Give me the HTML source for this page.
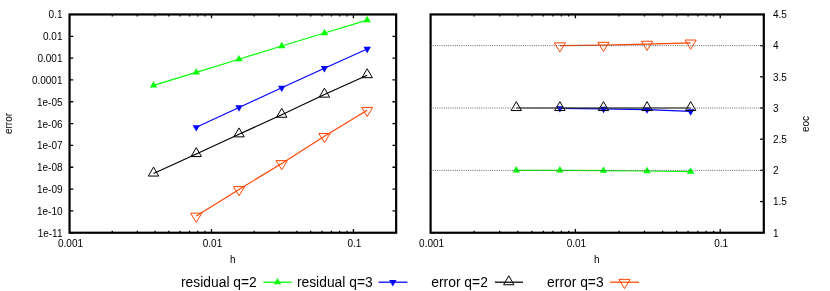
<!DOCTYPE html>
<html><head><meta charset="utf-8"><title>chart</title>
<style>html,body{margin:0;padding:0;background:#fff}svg{display:block;will-change:transform}text{fill:#000}</style>
</head><body>
<svg width="830" height="291" viewBox="0 0 830 291">
<rect width="830" height="291" fill="#fff"/>
<rect x="69.55" y="14.45" width="326.60" height="218.30" fill="none" stroke="#000" stroke-width="2.2"/>
<rect x="430.60" y="14.45" width="333.20" height="218.30" fill="none" stroke="#000" stroke-width="2.2"/>
<path d="M112.28 232.75v-2.0M112.28 14.45v2.0" stroke="#000" stroke-width="1.3"/>
<path d="M137.27 232.75v-2.0M137.27 14.45v2.0" stroke="#000" stroke-width="1.3"/>
<path d="M155.00 232.75v-2.0M155.00 14.45v2.0" stroke="#000" stroke-width="1.3"/>
<path d="M168.76 232.75v-2.0M168.76 14.45v2.0" stroke="#000" stroke-width="1.3"/>
<path d="M180.00 232.75v-2.0M180.00 14.45v2.0" stroke="#000" stroke-width="1.3"/>
<path d="M189.50 232.75v-2.0M189.50 14.45v2.0" stroke="#000" stroke-width="1.3"/>
<path d="M197.73 232.75v-2.0M197.73 14.45v2.0" stroke="#000" stroke-width="1.3"/>
<path d="M204.99 232.75v-2.0M204.99 14.45v2.0" stroke="#000" stroke-width="1.3"/>
<path d="M211.49 232.75v-3.7M211.49 14.45v3.7" stroke="#000" stroke-width="1.3"/>
<path d="M254.21 232.75v-2.0M254.21 14.45v2.0" stroke="#000" stroke-width="1.3"/>
<path d="M279.21 232.75v-2.0M279.21 14.45v2.0" stroke="#000" stroke-width="1.3"/>
<path d="M296.94 232.75v-2.0M296.94 14.45v2.0" stroke="#000" stroke-width="1.3"/>
<path d="M310.70 232.75v-2.0M310.70 14.45v2.0" stroke="#000" stroke-width="1.3"/>
<path d="M321.93 232.75v-2.0M321.93 14.45v2.0" stroke="#000" stroke-width="1.3"/>
<path d="M331.44 232.75v-2.0M331.44 14.45v2.0" stroke="#000" stroke-width="1.3"/>
<path d="M339.67 232.75v-2.0M339.67 14.45v2.0" stroke="#000" stroke-width="1.3"/>
<path d="M346.93 232.75v-2.0M346.93 14.45v2.0" stroke="#000" stroke-width="1.3"/>
<path d="M353.42 232.75v-3.7M353.42 14.45v3.7" stroke="#000" stroke-width="1.3"/>
<path d="M396.15 232.75v-2.0M396.15 14.45v2.0" stroke="#000" stroke-width="1.3"/>
<text x="69.55" y="246.9" font-size="10" text-anchor="middle" dx="1" font-family="Liberation Sans, sans-serif">0.001</text>
<text x="211.49" y="246.9" font-size="10" text-anchor="middle" dx="1" font-family="Liberation Sans, sans-serif">0.01</text>
<text x="353.42" y="246.9" font-size="10" text-anchor="middle" dx="1" font-family="Liberation Sans, sans-serif">0.1</text>
<path d="M474.19 232.75v-2.0M474.19 14.45v2.0" stroke="#000" stroke-width="1.3"/>
<path d="M499.69 232.75v-2.0M499.69 14.45v2.0" stroke="#000" stroke-width="1.3"/>
<path d="M517.78 232.75v-2.0M517.78 14.45v2.0" stroke="#000" stroke-width="1.3"/>
<path d="M531.81 232.75v-2.0M531.81 14.45v2.0" stroke="#000" stroke-width="1.3"/>
<path d="M543.28 232.75v-2.0M543.28 14.45v2.0" stroke="#000" stroke-width="1.3"/>
<path d="M552.97 232.75v-2.0M552.97 14.45v2.0" stroke="#000" stroke-width="1.3"/>
<path d="M561.37 232.75v-2.0M561.37 14.45v2.0" stroke="#000" stroke-width="1.3"/>
<path d="M568.78 232.75v-2.0M568.78 14.45v2.0" stroke="#000" stroke-width="1.3"/>
<path d="M575.40 232.75v-3.7M575.40 14.45v3.7" stroke="#000" stroke-width="1.3"/>
<path d="M619.00 232.75v-2.0M619.00 14.45v2.0" stroke="#000" stroke-width="1.3"/>
<path d="M644.49 232.75v-2.0M644.49 14.45v2.0" stroke="#000" stroke-width="1.3"/>
<path d="M662.59 232.75v-2.0M662.59 14.45v2.0" stroke="#000" stroke-width="1.3"/>
<path d="M676.62 232.75v-2.0M676.62 14.45v2.0" stroke="#000" stroke-width="1.3"/>
<path d="M688.08 232.75v-2.0M688.08 14.45v2.0" stroke="#000" stroke-width="1.3"/>
<path d="M697.78 232.75v-2.0M697.78 14.45v2.0" stroke="#000" stroke-width="1.3"/>
<path d="M706.18 232.75v-2.0M706.18 14.45v2.0" stroke="#000" stroke-width="1.3"/>
<path d="M713.58 232.75v-2.0M713.58 14.45v2.0" stroke="#000" stroke-width="1.3"/>
<path d="M720.21 232.75v-3.7M720.21 14.45v3.7" stroke="#000" stroke-width="1.3"/>
<path d="M763.80 232.75v-2.0M763.80 14.45v2.0" stroke="#000" stroke-width="1.3"/>
<text x="430.60" y="246.9" font-size="10" text-anchor="middle" dx="1" font-family="Liberation Sans, sans-serif">0.001</text>
<text x="575.40" y="246.9" font-size="10" text-anchor="middle" dx="1" font-family="Liberation Sans, sans-serif">0.01</text>
<text x="720.21" y="246.9" font-size="10" text-anchor="middle" dx="1" font-family="Liberation Sans, sans-serif">0.1</text>
<text x="62.5" y="18.35" font-size="10" text-anchor="end" font-family="Liberation Sans, sans-serif">0.1</text>
<path d="M69.55 36.28h3.7M396.15 36.28h-3.7" stroke="#000" stroke-width="1.3"/>
<text x="62.5" y="40.18" font-size="10" text-anchor="end" font-family="Liberation Sans, sans-serif">0.01</text>
<path d="M69.55 58.11h3.7M396.15 58.11h-3.7" stroke="#000" stroke-width="1.3"/>
<text x="62.5" y="62.01" font-size="10" text-anchor="end" font-family="Liberation Sans, sans-serif">0.001</text>
<path d="M69.55 79.94h3.7M396.15 79.94h-3.7" stroke="#000" stroke-width="1.3"/>
<text x="62.5" y="83.84" font-size="10" text-anchor="end" font-family="Liberation Sans, sans-serif">0.0001</text>
<path d="M69.55 101.77h3.7M396.15 101.77h-3.7" stroke="#000" stroke-width="1.3"/>
<text x="62.5" y="105.67" font-size="10" text-anchor="end" font-family="Liberation Sans, sans-serif">1e-05</text>
<path d="M69.55 123.60h3.7M396.15 123.60h-3.7" stroke="#000" stroke-width="1.3"/>
<text x="62.5" y="127.50" font-size="10" text-anchor="end" font-family="Liberation Sans, sans-serif">1e-06</text>
<path d="M69.55 145.43h3.7M396.15 145.43h-3.7" stroke="#000" stroke-width="1.3"/>
<text x="62.5" y="149.33" font-size="10" text-anchor="end" font-family="Liberation Sans, sans-serif">1e-07</text>
<path d="M69.55 167.26h3.7M396.15 167.26h-3.7" stroke="#000" stroke-width="1.3"/>
<text x="62.5" y="171.16" font-size="10" text-anchor="end" font-family="Liberation Sans, sans-serif">1e-08</text>
<path d="M69.55 189.09h3.7M396.15 189.09h-3.7" stroke="#000" stroke-width="1.3"/>
<text x="62.5" y="192.99" font-size="10" text-anchor="end" font-family="Liberation Sans, sans-serif">1e-09</text>
<path d="M69.55 210.92h3.7M396.15 210.92h-3.7" stroke="#000" stroke-width="1.3"/>
<text x="62.5" y="214.82" font-size="10" text-anchor="end" font-family="Liberation Sans, sans-serif">1e-10</text>
<text x="62.5" y="236.65" font-size="10" text-anchor="end" font-family="Liberation Sans, sans-serif">1e-11</text>
<text x="772.9" y="18.25" font-size="10" text-anchor="start" font-family="Liberation Sans, sans-serif">4.5</text>
<path d="M763.80 45.64h-3.7" stroke="#000" stroke-width="1.3"/>
<text x="772.9" y="49.44" font-size="10" text-anchor="start" font-family="Liberation Sans, sans-serif">4</text>
<path d="M763.80 76.82h-3.7" stroke="#000" stroke-width="1.3"/>
<text x="772.9" y="80.62" font-size="10" text-anchor="start" font-family="Liberation Sans, sans-serif">3.5</text>
<path d="M763.80 108.01h-3.7" stroke="#000" stroke-width="1.3"/>
<text x="772.9" y="111.81" font-size="10" text-anchor="start" font-family="Liberation Sans, sans-serif">3</text>
<path d="M763.80 139.19h-3.7" stroke="#000" stroke-width="1.3"/>
<text x="772.9" y="142.99" font-size="10" text-anchor="start" font-family="Liberation Sans, sans-serif">2.5</text>
<path d="M763.80 170.38h-3.7" stroke="#000" stroke-width="1.3"/>
<text x="772.9" y="174.18" font-size="10" text-anchor="start" font-family="Liberation Sans, sans-serif">2</text>
<path d="M763.80 201.56h-3.7" stroke="#000" stroke-width="1.3"/>
<text x="772.9" y="205.36" font-size="10" text-anchor="start" font-family="Liberation Sans, sans-serif">1.5</text>
<text x="772.9" y="236.55" font-size="10" text-anchor="start" font-family="Liberation Sans, sans-serif">1</text>
<text x="232.8" y="262.9" font-size="10" text-anchor="middle" font-family="Liberation Sans, sans-serif">h</text>
<text x="596.8" y="262.9" font-size="10" text-anchor="middle" font-family="Liberation Sans, sans-serif">h</text>
<text transform="translate(11.6,123.5) rotate(-90)" font-size="10" text-anchor="middle" font-family="Liberation Sans, sans-serif">error</text>
<text transform="translate(809.2,124) rotate(-90)" font-size="10" text-anchor="middle" font-family="Liberation Sans, sans-serif">eoc</text>
<path d="M153.54 85.40 L196.27 72.40 L239.00 59.20 L281.72 46.00 L324.45 33.00 L367.18 20.10" fill="none" stroke="#00ff00" stroke-width="1.15"/>
<polygon points="153.54,81.13 149.84,87.54 157.24,87.54" fill="#00ff00"/>
<polygon points="196.27,68.13 192.57,74.54 199.97,74.54" fill="#00ff00"/>
<polygon points="239.00,54.93 235.30,61.34 242.70,61.34" fill="#00ff00"/>
<polygon points="281.72,41.73 278.02,48.14 285.42,48.14" fill="#00ff00"/>
<polygon points="324.45,28.73 320.75,35.14 328.15,35.14" fill="#00ff00"/>
<polygon points="367.18,15.83 363.48,22.24 370.88,22.24" fill="#00ff00"/>
<path d="M196.27 127.30 L239.00 107.40 L281.72 87.80 L324.45 68.20 L367.18 48.90" fill="none" stroke="#0000ff" stroke-width="1.15"/>
<polygon points="196.27,131.57 192.57,125.16 199.97,125.16" fill="#0000ff"/>
<polygon points="239.00,111.67 235.30,105.26 242.70,105.26" fill="#0000ff"/>
<polygon points="281.72,92.07 278.02,85.66 285.42,85.66" fill="#0000ff"/>
<polygon points="324.45,72.47 320.75,66.06 328.15,66.06" fill="#0000ff"/>
<polygon points="367.18,53.17 363.48,46.76 370.88,46.76" fill="#0000ff"/>
<path d="M153.54 173.50 L196.27 154.00 L239.00 134.30 L281.72 114.70 L324.45 94.60 L367.18 75.15" fill="none" stroke="#000" stroke-width="1.15"/>
<polygon points="153.54,167.10 148.34,176.05 158.74,176.05" fill="none" stroke="#000" stroke-width="1"/>
<polygon points="196.27,147.60 191.07,156.55 201.47,156.55" fill="none" stroke="#000" stroke-width="1"/>
<polygon points="239.00,127.90 233.80,136.85 244.20,136.85" fill="none" stroke="#000" stroke-width="1"/>
<polygon points="281.72,108.30 276.52,117.25 286.92,117.25" fill="none" stroke="#000" stroke-width="1"/>
<polygon points="324.45,88.20 319.25,97.15 329.65,97.15" fill="none" stroke="#000" stroke-width="1"/>
<polygon points="367.18,68.75 361.98,77.70 372.38,77.70" fill="none" stroke="#000" stroke-width="1"/>
<path d="M196.27 216.00 L239.00 189.40 L281.72 163.40 L324.45 136.30 L367.18 110.20" fill="none" stroke="#ff4500" stroke-width="1.15"/>
<polygon points="196.27,222.35 190.67,213.20 201.87,213.20" fill="none" stroke="#ff4500" stroke-width="1"/>
<polygon points="239.00,195.75 233.40,186.60 244.60,186.60" fill="none" stroke="#ff4500" stroke-width="1"/>
<polygon points="281.72,169.75 276.12,160.60 287.32,160.60" fill="none" stroke="#ff4500" stroke-width="1"/>
<polygon points="324.45,142.65 318.85,133.50 330.05,133.50" fill="none" stroke="#ff4500" stroke-width="1"/>
<polygon points="367.18,116.55 361.58,107.40 372.78,107.40" fill="none" stroke="#ff4500" stroke-width="1"/>
<path d="M516.29 170.38 L559.88 170.38 L603.47 170.69 L647.06 171.00 L690.65 171.63" fill="none" stroke="#00ff00" stroke-width="1.15"/>
<polygon points="516.29,166.11 512.59,172.51 519.99,172.51" fill="#00ff00"/>
<polygon points="559.88,166.11 556.18,172.51 563.58,172.51" fill="#00ff00"/>
<polygon points="603.47,166.42 599.77,172.83 607.17,172.83" fill="#00ff00"/>
<polygon points="647.06,166.73 643.36,173.14 650.76,173.14" fill="#00ff00"/>
<polygon points="690.65,167.35 686.95,173.76 694.35,173.76" fill="#00ff00"/>
<path d="M559.88 108.32 L603.47 108.94 L647.06 109.57 L690.65 111.44" fill="none" stroke="#0000ff" stroke-width="1.15"/>
<polygon points="559.88,112.59 556.18,106.18 563.58,106.18" fill="#0000ff"/>
<polygon points="603.47,113.21 599.77,106.81 607.17,106.81" fill="#0000ff"/>
<polygon points="647.06,113.84 643.36,107.43 650.76,107.43" fill="#0000ff"/>
<polygon points="690.65,115.71 686.95,109.30 694.35,109.30" fill="#0000ff"/>
<path d="M516.29 108.01 L559.88 108.01 L603.47 108.01 L647.06 108.01 L690.65 108.01" fill="none" stroke="#000" stroke-width="1.15"/>
<polygon points="516.29,101.61 511.09,110.56 521.49,110.56" fill="none" stroke="#000" stroke-width="1"/>
<polygon points="559.88,101.61 554.68,110.56 565.08,110.56" fill="none" stroke="#000" stroke-width="1"/>
<polygon points="603.47,101.61 598.27,110.56 608.67,110.56" fill="none" stroke="#000" stroke-width="1"/>
<polygon points="647.06,101.61 641.86,110.56 652.26,110.56" fill="none" stroke="#000" stroke-width="1"/>
<polygon points="690.65,101.61 685.45,110.56 695.85,110.56" fill="none" stroke="#000" stroke-width="1"/>
<path d="M559.88 45.64 L603.47 45.14 L647.06 44.08 L690.65 42.83" fill="none" stroke="#ff4500" stroke-width="1.15"/>
<polygon points="559.88,51.99 554.28,42.84 565.48,42.84" fill="none" stroke="#ff4500" stroke-width="1"/>
<polygon points="603.47,51.49 597.87,42.34 609.07,42.34" fill="none" stroke="#ff4500" stroke-width="1"/>
<polygon points="647.06,50.43 641.46,41.28 652.66,41.28" fill="none" stroke="#ff4500" stroke-width="1"/>
<polygon points="690.65,49.18 685.05,40.03 696.25,40.03" fill="none" stroke="#ff4500" stroke-width="1"/>
<path d="M430.60 170.38H763.80" stroke="#666" stroke-width="1" stroke-dasharray="1 1.2"/>
<path d="M430.60 108.01H763.80" stroke="#666" stroke-width="1" stroke-dasharray="1 1.2"/>
<path d="M430.60 45.64H763.80" stroke="#666" stroke-width="1" stroke-dasharray="1 1.2"/>
<text x="181" y="287.00" font-size="13.85" text-anchor="start" font-family="Liberation Sans, sans-serif">residual q=2</text>
<path d="M263.4 282.2H291.7" stroke="#00ff00" stroke-width="1.25"/>
<polygon points="277.50,277.93 273.80,284.34 281.20,284.34" fill="#00ff00"/>
<text x="296.9" y="287.00" font-size="13.85" text-anchor="start" font-family="Liberation Sans, sans-serif">residual q=3</text>
<path d="M378.5 282.2H407.4" stroke="#0000ff" stroke-width="1.25"/>
<polygon points="392.80,286.47 389.10,280.06 396.50,280.06" fill="#0000ff"/>
<text x="431.3" y="287.00" font-size="13.85" text-anchor="start" font-family="Liberation Sans, sans-serif">error q=2</text>
<path d="M494.9 282.2H523" stroke="#000" stroke-width="1.25"/>
<polygon points="508.80,275.80 503.60,284.75 514.00,284.75" fill="none" stroke="#000" stroke-width="1"/>
<text x="547.1" y="287.00" font-size="13.85" text-anchor="start" font-family="Liberation Sans, sans-serif">error q=3</text>
<path d="M610 282.2H639" stroke="#ff4500" stroke-width="1.25"/>
<polygon points="624.50,288.55 618.90,279.40 630.10,279.40" fill="none" stroke="#ff4500" stroke-width="1"/>
</svg>
</body></html>
